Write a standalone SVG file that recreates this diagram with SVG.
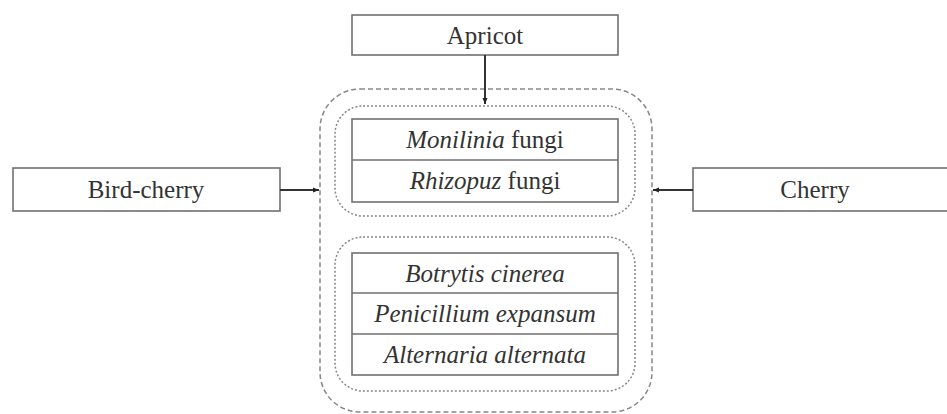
<svg xmlns="http://www.w3.org/2000/svg" width="947" height="414" viewBox="0 0 947 414">
<defs>
<marker id="ah" markerWidth="8" markerHeight="8" refX="7" refY="4" orient="auto" markerUnits="userSpaceOnUse">
<path d="M1,1.5 L7,4 L1,6.5 Z" fill="#222"/>
</marker>
</defs>
<style>
.box{fill:#fff;stroke:#707070;stroke-width:1.6}
.line{stroke:#707070;stroke-width:1.6}
.outer{fill:none;stroke:#888;stroke-width:1.5;stroke-dasharray:5 3}
.inner{fill:none;stroke:#888;stroke-width:1.5;stroke-dasharray:2 2}
.t{font-size:25px;fill:#333;text-anchor:middle}
.i{font-style:italic}
.conn{stroke:#333;stroke-width:2;fill:none;marker-end:url(#ah)}
</style>
<rect width="947" height="414" fill="#fff"/>
<g font-family="Liberation Serif, Times New Roman, DejaVu Serif, serif">
<g id="container">
<rect class="outer" x="320" y="89" width="332" height="323" rx="40" ry="40"/>
</g>
<g id="group1">
<rect class="inner" x="335" y="106" width="300" height="110" rx="28" ry="28"/>
<rect class="box" x="352" y="119" width="266" height="83"/>
<line class="line" x1="352" y1="160" x2="618" y2="160"/>
<text class="t" x="485" y="148"><tspan class="i">Monilinia</tspan> fungi</text>
<text class="t" x="485" y="189"><tspan class="i">Rhizopuz</tspan> fungi</text>
</g>
<g id="group2">
<rect class="inner" x="335" y="237" width="300" height="154" rx="28" ry="28"/>
<rect class="box" x="352" y="253" width="266" height="122"/>
<line class="line" x1="352" y1="293" x2="618" y2="293"/>
<line class="line" x1="352" y1="334" x2="618" y2="334"/>
<text class="t i" x="485" y="282">Botrytis cinerea</text>
<text class="t i" x="485" y="322">Penicillium expansum</text>
<text class="t i" x="485" y="363">Alternaria alternata</text>
</g>
<g id="apricot">
<rect class="box" x="352" y="15" width="266" height="40"/>
<text class="t" x="485" y="44">Apricot</text>
</g>
<g id="bird-cherry">
<rect class="box" x="13" y="168" width="267" height="43"/>
<text class="t" x="146" y="198">Bird-cherry</text>
</g>
<g id="cherry">
<rect class="box" x="693" y="168" width="260" height="43"/>
<text class="t" x="815" y="198">Cherry</text>
</g>
<g id="connectors">
<line class="conn" x1="485" y1="55" x2="485" y2="104"/>
<line class="conn" x1="280" y1="190" x2="319" y2="190"/>
<line class="conn" x1="693" y1="190" x2="653" y2="190"/>
</g>
</g>
</svg>
